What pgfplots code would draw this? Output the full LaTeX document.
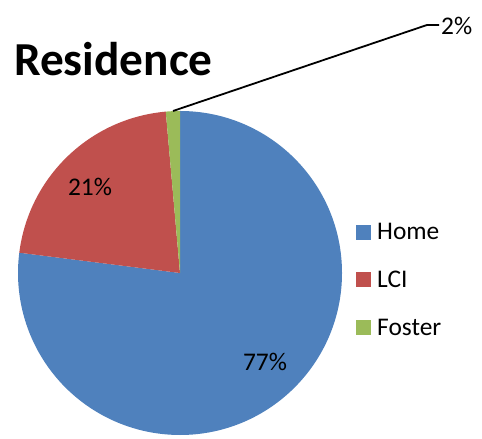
\documentclass[border=0pt]{standalone}
\usepackage{fontspec}
\setmainfont{Carlito}
\usepackage{pgfplots}
\pgfplotsset{compat=1.18}

\definecolor{homeblue}{HTML}{4F81BD}
\definecolor{lcired}{HTML}{C0504D}
\definecolor{fostergreen}{HTML}{9BBB59}

% slice shares (percent), drawn clockwise from 12 o'clock
\def\vhome{77}
\def\vlci{21.6}
\def\vfoster{1.4}
\pgfmathsetmacro\aA{90-3.6*\vhome}
\pgfmathsetmacro\aB{\aA-3.6*\vlci}
\pgfmathsetmacro\aC{\aB-3.6*\vfoster}

\begin{document}
\begin{tikzpicture}
\begin{axis}[
    x=1bp, y=1bp,
    xmin=0, xmax=482, ymin=0, ymax=439,
    hide axis, clip=false,
]
    \path (axis cs:0,0) rectangle (axis cs:482,439);
    % pie
    \fill[homeblue] (axis cs:180,166) -- ++(90:162bp)
        arc[start angle=90, end angle=\aA, radius=162bp] -- cycle;
    \fill[lcired] (axis cs:180,166) -- ++(\aA:162bp)
        arc[start angle=\aA, end angle=\aB, radius=162bp] -- cycle;
    \fill[fostergreen] (axis cs:180,166) -- ++(\aB:162bp)
        arc[start angle=\aB, end angle=\aC, radius=162bp] -- cycle;
    % labels
    \node at (axis cs:90,252) {\fontsize{25.5}{30}\selectfont 21\%};
    \node at (axis cs:265,77) {\fontsize{25.5}{30}\selectfont 77\%};
    \draw[line width=1.8bp] (axis cs:173,328) -- (axis cs:427,414) -- (axis cs:439,414);
    \node[anchor=base west, inner sep=0pt] at (axis cs:441,404) {\fontsize{25.5}{30}\selectfont 2\%};
    % title
    \node[anchor=base west, inner sep=0pt] at (axis cs:14,363)
        {\fontsize{47.5}{56}\selectfont\bfseries Residence};
    % legend
    \fill[homeblue] (axis cs:356,199) rectangle (axis cs:371,214);
    \fill[lcired] (axis cs:356,151.5) rectangle (axis cs:371,166.5);
    \fill[fostergreen] (axis cs:356,103.5) rectangle (axis cs:371,118.5);
    \node[anchor=base west, inner sep=0pt] at (axis cs:377,199) {\fontsize{25.5}{30}\selectfont Home};
    \node[anchor=base west, inner sep=0pt] at (axis cs:377,151.5) {\fontsize{25.5}{30}\selectfont LCI};
    \node[anchor=base west, inner sep=0pt] at (axis cs:377,103.5) {\fontsize{25.5}{30}\selectfont Foster};
\end{axis}
\end{tikzpicture}
\end{document}
